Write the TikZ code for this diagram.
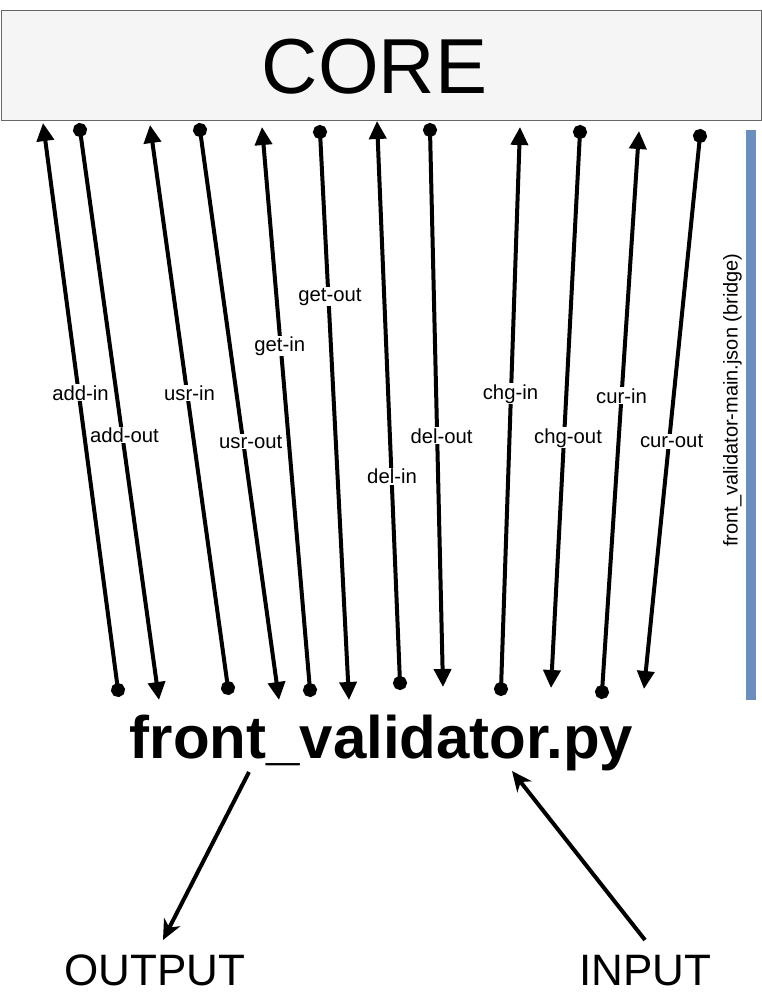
\documentclass[tikz,border=0pt]{standalone}
\usepackage{fontspec}
\setmainfont{Liberation Sans}
\usetikzlibrary{arrows.meta}
\definecolor{coreFill}{HTML}{F5F5F5}
\definecolor{coreLine}{HTML}{666666}
\definecolor{bridge}{HTML}{6C8EBF}
\tikzset{
  conn/.style={line width=4pt, shorten <=-7pt, {Circle[length=14pt]}-{Triangle[length=18pt,width=17pt]}},
  lbl/.style={fill=white, inner sep=1pt, font=\fontsize{20.3}{24}\selectfont},
  io/.style={line width=4pt, -{Stealth[length=20pt,width=18pt,inset=6pt]}},
  bigtxt/.style={anchor=base, inner sep=0pt},
}
\begin{document}
\begin{tikzpicture}[x=1pt,y=-1pt]
\useasboundingbox (0,0) rectangle (761,1001);
\fill[white] (0,0) rectangle (761,1001);
% CORE box
\node[draw=coreLine, fill=coreFill, line width=1pt, minimum width=760pt, minimum height=110pt, inner sep=0pt, anchor=north west] (core) at (0.5,10) {};
\node[bigtxt, font=\fontsize{78}{80}\selectfont] (coretxt) at (374.5,93) {CORE};
% bridge bar
\node[fill=bridge, minimum width=10pt, minimum height=570pt, inner sep=0pt, anchor=north west] (bar) at (746,130) {};
\node[rotate=90, inner sep=0pt, font=\fontsize{20}{24}\selectfont] (barlbl) at (732.5,400) {front\_validator-main.json (bridge)};
% endpoints
\coordinate (a1s) at (118,690); \coordinate (a1e) at (43,123);
\coordinate (a2s) at (80,130);  \coordinate (a2e) at (159,700);
\coordinate (a3s) at (228,688); \coordinate (a3e) at (150,125);
\coordinate (a4s) at (200,130); \coordinate (a4e) at (279,700);
\coordinate (a5s) at (310,690); \coordinate (a5e) at (262,127);
\coordinate (a6s) at (320,132); \coordinate (a6e) at (349,700);
\coordinate (a7s) at (400,683); \coordinate (a7e) at (377,121);
\coordinate (a8s) at (430,130); \coordinate (a8e) at (443,687);
\coordinate (a9s) at (501,689); \coordinate (a9e) at (520,127);
\coordinate (a10s) at (580,132); \coordinate (a10e) at (551,688);
\coordinate (a11s) at (602,692); \coordinate (a11e) at (639,131);
\coordinate (a12s) at (700,136); \coordinate (a12e) at (644,689);
% connectors
\draw[conn] (a1s) -- node[lbl, pos=0.524, xshift=1.8pt] {add-in} (a1e);
\draw[conn] (a2s) -- node[lbl, pos=0.535, xshift=2.2pt] {add-out} (a2e);
\draw[conn] (a3s) -- node[lbl, pos=0.524, xshift=2.4pt] {usr-in} (a3e);
\draw[conn] (a4s) -- node[lbl, pos=0.547, xshift=7.5pt] {usr-out} (a4e);
\draw[conn] (a5s) -- node[lbl, pos=0.611, xshift=-1pt] {get-in} (a5e);
\draw[conn] (a6s) -- node[lbl, pos=0.290, xshift=1.6pt] {get-out} (a6e);
\draw[conn] (a7s) -- node[lbl, pos=0.368, xshift=0.5pt] {del-in} (a7e);
\draw[conn] (a8s) -- node[lbl, pos=0.549, xshift=4.4pt] {del-out} (a8e);
\draw[conn] (a9s) -- node[lbl, pos=0.525, xshift=-0.5pt] {chg-in} (a9e);
\draw[conn] (a10s) -- node[lbl, pos=0.550, xshift=4pt] {chg-out} (a10e);
\draw[conn] (a11s) -- node[lbl, pos=0.528] {cur-in} (a11e);
\draw[conn] (a12s) -- node[lbl, pos=0.552, xshift=2.5pt] {cur-out} (a12e);
% bottom
\node[bigtxt, font=\bfseries\fontsize{60}{62}\selectfont] (fv) at (381.5,758) {front\_validator.py};
\node[bigtxt, font=\fontsize{44}{46}\selectfont] (out) at (155,985) {OUTPUT};
\node[bigtxt, font=\fontsize{44}{46}\selectfont] (in) at (645.5,985) {INPUT};
\coordinate (o1) at (249,772); \coordinate (o2) at (163,940);
\coordinate (i1) at (645,940); \coordinate (i2) at (512,771);
\draw[io] (o1) -- (o2);
\draw[io] (i1) -- (i2);
\end{tikzpicture}
\end{document}
